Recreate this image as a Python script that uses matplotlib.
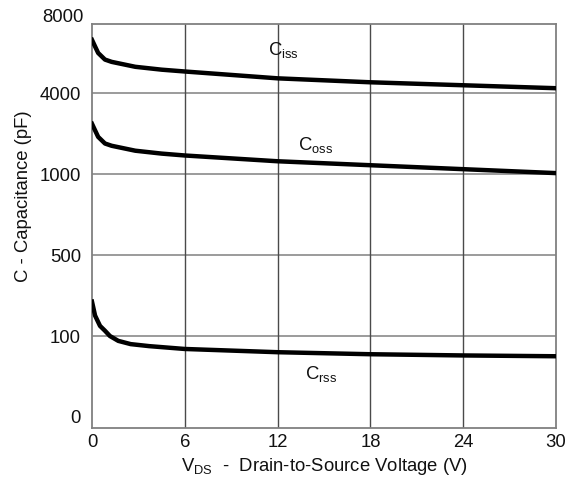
import numpy as np
import matplotlib
matplotlib.use("Agg")
import matplotlib.pyplot as plt
import matplotlib.transforms as mtransforms

plt.rcParams['font.family'] = ['Liberation Sans', 'DejaVu Sans']
plt.rcParams['mathtext.fontset'] = 'custom'
plt.rcParams['mathtext.rm'] = 'Liberation Sans'

# Data (pF vs V)
vds_iss = [0, 0.2, 0.4, 0.84, 1.27, 2.8, 4.5, 6, 12, 18, 24, 30]
ciss = [6634, 6307, 5985, 5659, 5546, 5302, 5160, 5070, 4732, 4537, 4390, 4244]

vds_oss = [0, 0.2, 0.4, 0.84, 1.27, 2.8, 4.5, 6, 12, 18, 24, 30]
coss = [2866, 2621, 2379, 2134, 2050, 1867, 1760, 1690, 1476, 1329, 1183, 1037]

vds_rss = [0, 0.2, 0.4, 0.52, 0.84, 1.16, 1.7, 2.5, 3.7, 6, 12, 18, 24, 30]
crss = [270, 201, 169, 150, 126, 100, 94, 90, 87.5, 84, 80, 77.5, 76, 75]

x_ticks = [0, 6, 12, 18, 24, 30]
y_ticks = [0, 100, 500, 1000, 4000]
y_top_label = 8000
grid_vals = [100, 500, 1000, 4000]

# Custom equally spaced tick scale
knots_c = np.array([-1000, 0, 100, 500, 1000, 4000, 8000, 48000], dtype=float)
knots_u = np.array([-10, 0, 1, 2, 3, 4, 5, 15], dtype=float)

def fwd(c):
    return np.interp(np.asarray(c, dtype=float), knots_c, knots_u)

def inv(u):
    return np.interp(np.asarray(u, dtype=float), knots_u, knots_c)

fig = plt.figure(figsize=(5.66, 4.8), dpi=100)
ax = fig.add_axes([0.1625, 0.1077, 0.8198, 0.8416])
ax.set_yscale('function', functions=(fwd, inv))

lw = 3.2
ax.plot(vds_iss, ciss, color='black', lw=lw, solid_joinstyle='round', zorder=3)
ax.plot(vds_oss, coss, color='black', lw=lw, solid_joinstyle='round', zorder=3)
ax.plot(vds_rss, crss, color='black', lw=lw, solid_joinstyle='round', zorder=3)

ax.set_xlim(0, 30)
ax.set_ylim(float(inv(-0.14)), float(inv(4.85)))

ax.set_xticks(x_ticks)
ax.set_xticklabels([str(v) for v in x_ticks], fontsize=13.3, color='#111111')
ax.set_yticks(y_ticks)
ax.set_yticklabels([str(v) for v in y_ticks], fontsize=13.3, color='#111111')
ax.yaxis.set_minor_locator(matplotlib.ticker.NullLocator())
ax.tick_params(axis='y', length=0, pad=8)
ax.tick_params(axis='x', length=0, pad=4)

trans = mtransforms.blended_transform_factory(ax.transAxes, ax.transData)
ax.text(-0.0175, float(inv(4.93)), str(y_top_label), transform=trans,
        ha='right', va='center', fontsize=13.3, color='#111111')

for g in grid_vals:
    ax.axhline(g, color='#8a8a8a', lw=1.2, zorder=1)
for xv in x_ticks[1:-1]:
    ax.axvline(xv, color='#4a4a4a', lw=1.0, zorder=1)

for s in ax.spines.values():
    s.set_color('#808080')
    s.set_linewidth(1.3)

ax.set_xlabel(r'$\mathregular{V_{DS}}$  -  Drain-to-Source Voltage (V)', fontsize=13.3, color='#111111', labelpad=4)
ax.set_ylabel('C - Capacitance (pF)', fontsize=13.3, color='#111111')
ax.yaxis.set_label_coords(-0.13, 0.575)

ax.text(11.4, float(inv(4.537)), r'$\mathregular{C_{iss}}$', fontsize=13.3, ha='left', va='center', color='#111111')
ax.text(13.3, float(inv(3.354)), r'$\mathregular{C_{oss}}$', fontsize=13.3, ha='left', va='center', color='#111111')
ax.text(13.8, float(inv(0.525)), r'$\mathregular{C_{rss}}$', fontsize=13.3, ha='left', va='center', color='#111111')

fig.savefig('out.png', dpi=100)
